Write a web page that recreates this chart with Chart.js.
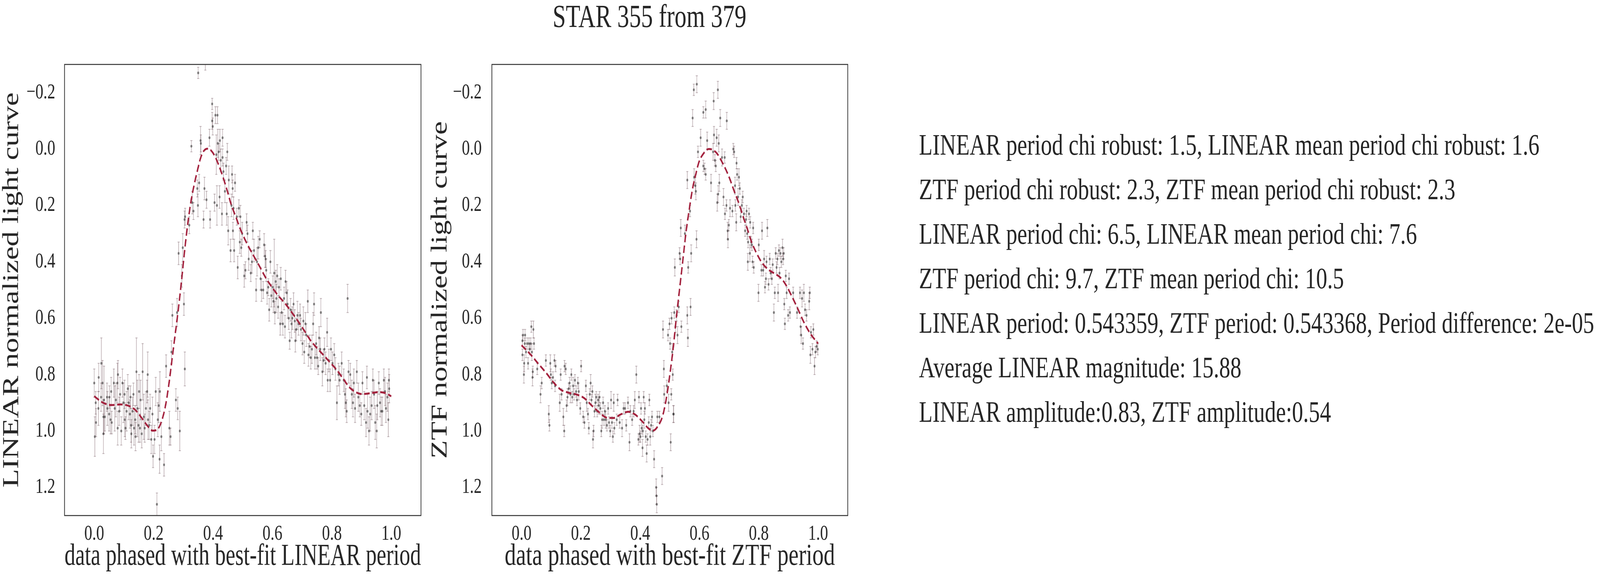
<!DOCTYPE html>
<html>
<head>
<meta charset="utf-8">
<script src="https://cdn.jsdelivr.net/npm/chart.js@4.4.1/dist/chart.umd.min.js"></script>
<style>
  html, body { margin:0; padding:0; background:#ffffff; overflow:hidden; width:100%; height:100%; }
  #frame { position:relative; left:0; top:0; overflow:hidden; background:#ffffff; }
  #root { position:absolute; left:0; top:0; width:5530px; height:1485px; transform-origin:0 0; background:#ffffff;
          font-family:'Liberation Serif','Times New Roman',serif; color:#262626; overflow:hidden; }
  #root canvas { position:absolute; top:0; }
  #title { position:absolute; left:1745px; top:1px; width:1000px; text-align:center; font-size:82px; line-height:82px; white-space:nowrap; }
  #stats { position:absolute; left:3176px; top:313px; font-size:77px; line-height:114px; white-space:nowrap; }
</style>
</head>
<body>
<div id="frame">
<div id="root">
  <div id="title"></div>
  <canvas id="c1" width="1500" height="1485" style="left:0px;width:1500px;height:1485px;"></canvas>
  <canvas id="c2" width="1500" height="1485" style="left:1460px;width:1500px;height:1485px;"></canvas>
  <div id="stats"></div>
</div>
</div>
<script>
// ---------------- DATA ----------------
const figureTitle = 'STAR 355 from 379';
const linearXLabel = 'data phased with best-fit LINEAR period';
const linearYLabel = 'LINEAR normalized light curve';
const ztfXLabel = 'data phased with best-fit ZTF period';
const ztfYLabel = 'ZTF normalized light curve';
const xTickValues = [0.0, 0.2, 0.4, 0.6, 0.8, 1.0];
const yTickValues = [-0.2, 0.0, 0.2, 0.4, 0.6, 0.8, 1.0, 1.2];
const statLines = [
  'LINEAR period chi robust: 1.5, LINEAR mean period chi robust: 1.6',
  'ZTF period chi robust: 2.3, ZTF mean period chi robust: 2.3',
  'LINEAR period chi: 6.5, LINEAR mean period chi: 7.6',
  'ZTF period chi: 9.7, ZTF mean period chi: 10.5',
  'LINEAR period: 0.543359, ZTF period: 0.543368, Period difference: 2e-05',
  'Average LINEAR magnitude: 15.88',
  'LINEAR amplitude:0.83, ZTF amplitude:0.54'
];

// LINEAR phased points: [phase, normalized mag, error]
const linearPoints = [
[0.000,0.83,0.05],[0.002,1.02,0.07],[0.006,0.97,0.05],[0.005,0.90,0.04],[0.015,0.81,0.05],[0.014,0.92,0.06],
[0.024,0.76,0.09],[0.023,0.88,0.05],[0.028,0.83,0.08],[0.031,1.01,0.07],[0.031,0.95,0.06],[0.033,0.89,0.12],
[0.036,0.95,0.05],[0.043,0.88,0.05],[0.044,0.92,0.06],[0.050,0.94,0.06],[0.051,0.88,0.04],[0.055,0.96,0.05],
[0.057,0.86,0.05],[0.059,0.97,0.04],[0.066,0.83,0.05],[0.069,0.92,0.08],[0.073,0.89,0.06],[0.078,0.83,0.07],
[0.079,0.99,0.06],[0.080,0.80,0.05],[0.084,0.93,0.05],[0.087,0.87,0.06],[0.091,1.00,0.05],[0.095,0.83,0.05],
[0.098,0.90,0.07],[0.102,0.87,0.05],[0.103,0.96,0.06],[0.105,0.99,0.04],[0.109,0.93,0.07],[0.113,0.85,0.05],
[0.116,0.90,0.06],[0.120,0.94,0.05],[0.122,0.88,0.04],[0.124,0.98,0.06],[0.125,1.01,0.05],[0.129,0.93,0.05],
[0.132,0.87,0.04],[0.134,0.99,0.06],[0.138,0.96,0.05],[0.139,1.02,0.05],[0.142,0.79,0.12],[0.145,0.92,0.10],
[0.149,0.98,0.06],[0.151,0.86,0.06],[0.154,0.99,0.05],[0.156,0.89,0.07],[0.160,1.01,0.05],[0.163,0.79,0.10],
[0.167,0.95,0.08],[0.170,0.99,0.05],[0.174,0.92,0.06],[0.178,0.86,0.04],[0.180,0.80,0.08],[0.181,0.96,0.07],
[0.185,0.98,0.05],[0.188,0.92,0.05],[0.192,1.03,0.05],[0.196,0.94,0.06],[0.198,1.09,0.04],[0.203,1.03,0.05],
[0.207,0.86,0.05],[0.211,1.26,0.04],[0.214,0.96,0.06],[0.217,0.91,0.06],[0.220,1.10,0.05],[0.221,0.86,0.07],
[0.226,1.02,0.05],[0.235,1.12,0.04],[0.242,0.77,0.04],[0.253,0.99,0.06],[0.257,1.02,0.03],[0.260,0.72,0.04],
[0.263,0.59,0.04],[0.275,0.89,0.04],[0.281,0.92,0.04],[0.279,0.58,0.05],[0.284,0.37,0.04],[0.288,1.00,0.07],
[0.295,0.45,0.04],[0.298,0.35,0.05],[0.302,0.55,0.04],[0.305,0.78,0.06],[0.304,0.25,0.03],[0.306,0.24,0.03],
[0.320,0.27,0.03],[0.327,-0.01,0.02],[0.330,0.19,0.04],[0.334,0.22,0.03],[0.347,0.14,0.03],[0.349,0.20,0.04],
[0.350,-0.27,0.02],[0.353,0.12,0.03],[0.358,-0.03,0.05],[0.359,-0.02,0.03],[0.368,0.25,0.03],[0.371,0.14,0.04],
[0.378,0.18,0.03],[0.374,-0.33,0.05],[0.388,-0.04,0.03],[0.390,0.25,0.03],[0.397,-0.16,0.02],[0.397,-0.10,0.03],
[0.399,-0.08,0.03],[0.405,0.19,0.03],[0.408,-0.12,0.03],[0.411,0.02,0.07],[0.413,0.20,0.07],[0.415,-0.12,0.03],
[0.416,-0.02,0.05],[0.419,0.01,0.03],[0.422,0.17,0.04],[0.423,-0.03,0.04],[0.426,0.04,0.04],[0.430,0.23,0.04],
[0.432,0.03,0.03],[0.432,-0.04,0.03],[0.435,0.08,0.03],[0.440,0.15,0.04],[0.444,0.06,0.03],[0.446,0.23,0.04],
[0.448,0.01,0.03],[0.451,0.29,0.05],[0.453,0.11,0.05],[0.459,0.36,0.04],[0.462,0.20,0.04],[0.464,0.09,0.03],
[0.466,0.14,0.03],[0.467,0.29,0.03],[0.469,0.21,0.04],[0.471,0.36,0.04],[0.474,0.12,0.03],[0.480,0.24,0.03],
[0.483,0.42,0.04],[0.487,0.21,0.03],[0.490,0.33,0.04],[0.492,0.24,0.04],[0.495,0.35,0.03],[0.498,0.30,0.04],
[0.505,0.45,0.04],[0.509,0.43,0.03],[0.513,0.26,0.03],[0.516,0.30,0.03],[0.520,0.39,0.04],[0.527,0.44,0.03],
[0.531,0.40,0.04],[0.534,0.29,0.03],[0.538,0.36,0.04],[0.545,0.50,0.04],[0.548,0.40,0.05],[0.552,0.35,0.04],
[0.557,0.32,0.03],[0.560,0.46,0.04],[0.563,0.50,0.04],[0.569,0.50,0.03],[0.572,0.34,0.04],[0.575,0.38,0.04],
[0.577,0.39,0.03],[0.579,0.43,0.04],[0.582,0.51,0.04],[0.586,0.49,0.03],[0.589,0.57,0.04],[0.593,0.40,0.04],
[0.596,0.52,0.04],[0.601,0.49,0.04],[0.603,0.54,0.04],[0.606,0.44,0.12],[0.608,0.58,0.04],[0.611,0.47,0.04],
[0.613,0.53,0.05],[0.616,0.45,0.04],[0.619,0.56,0.04],[0.622,0.49,0.03],[0.626,0.62,0.04],[0.628,0.46,0.04],
[0.631,0.58,0.04],[0.635,0.62,0.04],[0.639,0.53,0.04],[0.642,0.63,0.04],[0.644,0.47,0.04],[0.648,0.51,0.04],
[0.651,0.55,0.05],[0.655,0.60,0.04],[0.658,0.68,0.03],[0.661,0.57,0.04],[0.664,0.62,0.05],[0.667,0.60,0.04],
[0.671,0.55,0.04],[0.675,0.61,0.04],[0.677,0.68,0.04],[0.680,0.64,0.04],[0.684,0.59,0.05],[0.688,0.62,0.04],
[0.693,0.59,0.04],[0.696,0.64,0.04],[0.701,0.69,0.04],[0.704,0.61,0.05],[0.707,0.72,0.04],[0.711,0.62,0.04],
[0.714,0.66,0.04],[0.719,0.54,0.04],[0.721,0.73,0.04],[0.725,0.70,0.04],[0.729,0.74,0.04],[0.733,0.71,0.05],
[0.737,0.62,0.04],[0.740,0.55,0.04],[0.743,0.74,0.04],[0.747,0.69,0.04],[0.750,0.74,0.04],[0.754,0.77,0.03],
[0.757,0.67,0.04],[0.761,0.71,0.04],[0.763,0.58,0.05],[0.768,0.79,0.05],[0.772,0.75,0.04],[0.775,0.71,0.04],
[0.779,0.76,0.04],[0.784,0.65,0.05],[0.786,0.82,0.04],[0.790,0.75,0.04],[0.794,0.82,0.04],[0.797,0.71,0.04],
[0.802,0.76,0.04],[0.808,0.73,0.04],[0.812,0.78,0.04],[0.817,0.90,0.06],[0.822,0.80,0.04],[0.826,0.82,0.05],
[0.833,0.76,0.04],[0.840,0.82,0.04],[0.844,0.87,0.05],[0.847,0.90,0.05],[0.850,0.93,0.04],[0.853,0.53,0.05],
[0.856,0.79,0.04],[0.862,0.80,0.04],[0.867,0.87,0.05],[0.871,0.90,0.05],[0.874,0.83,0.05],[0.878,0.92,0.05],
[0.884,0.79,0.04],[0.889,0.88,0.05],[0.894,0.91,0.04],[0.899,0.94,0.04],[0.903,0.83,0.04],[0.909,0.91,0.05],
[0.915,0.97,0.05],[0.918,0.81,0.04],[0.920,0.93,0.06],[0.925,1.00,0.05],[0.929,0.94,0.06],[0.934,0.91,0.05],
[0.938,0.82,0.04],[0.942,0.87,0.05],[0.946,0.97,0.06],[0.951,1.00,0.06],[0.953,0.91,0.05],[0.958,0.83,0.04],
[0.962,0.90,0.05],[0.966,0.93,0.05],[0.970,0.93,0.05],[0.975,0.82,0.04],[0.979,0.86,0.05],[0.982,0.92,0.05],
[0.987,0.88,0.05],[0.990,0.96,0.06],[0.992,0.82,0.04],[0.993,0.85,0.05]
];

// ZTF phased points: [phase, normalized mag, error]
const ztfPoints = [
[0.003,0.68,0.02],[0.003,0.73,0.02],[0.005,0.66,0.02],[0.008,0.80,0.03],[0.009,0.76,0.03],[0.011,0.69,0.02],
[0.012,0.66,0.02],[0.015,0.72,0.02],[0.019,0.69,0.02],[0.022,0.76,0.02],[0.025,0.69,0.02],[0.028,0.71,0.02],
[0.031,0.69,0.02],[0.033,0.63,0.02],[0.035,0.72,0.03],[0.037,0.81,0.03],[0.038,0.79,0.02],[0.040,0.64,0.03],
[0.042,0.69,0.02],[0.053,0.78,0.02],[0.064,0.87,0.03],[0.068,0.83,0.02],[0.082,0.75,0.02],[0.092,0.94,0.03],
[0.094,0.98,0.02],[0.097,0.76,0.03],[0.099,0.80,0.02],[0.102,0.83,0.02],[0.106,0.81,0.02],[0.111,0.75,0.02],
[0.113,0.84,0.02],[0.115,0.77,0.02],[0.129,0.90,0.03],[0.132,0.80,0.02],[0.135,0.87,0.02],[0.141,0.95,0.03],
[0.144,1.00,0.02],[0.145,0.77,0.02],[0.149,0.78,0.02],[0.152,0.91,0.02],[0.155,0.88,0.03],[0.159,0.85,0.02],
[0.162,0.83,0.02],[0.165,0.87,0.03],[0.168,0.80,0.02],[0.171,0.88,0.02],[0.174,0.84,0.03],[0.177,0.87,0.02],
[0.180,0.82,0.02],[0.184,0.86,0.02],[0.187,0.89,0.02],[0.190,0.83,0.02],[0.193,0.86,0.03],[0.198,0.92,0.02],
[0.201,0.77,0.02],[0.208,0.95,0.02],[0.212,0.97,0.02],[0.217,0.84,0.02],[0.220,0.90,0.03],[0.224,0.94,0.02],
[0.227,0.99,0.02],[0.230,0.87,0.02],[0.233,0.83,0.03],[0.236,0.89,0.02],[0.239,0.86,0.02],[0.241,1.03,0.03],
[0.243,1.00,0.02],[0.246,0.93,0.02],[0.249,0.90,0.03],[0.252,0.88,0.02],[0.255,0.93,0.02],[0.258,0.89,0.02],
[0.261,0.91,0.03],[0.263,0.88,0.02],[0.266,0.92,0.02],[0.269,1.00,0.02],[0.272,0.96,0.03],[0.275,0.90,0.02],
[0.278,0.96,0.02],[0.281,0.93,0.02],[0.284,0.96,0.03],[0.288,0.98,0.02],[0.292,0.92,0.02],[0.295,0.97,0.02],
[0.299,1.00,0.02],[0.302,0.89,0.03],[0.305,0.97,0.02],[0.308,1.02,0.02],[0.311,0.90,0.03],[0.313,0.99,0.02],
[0.321,0.96,0.02],[0.324,0.89,0.02],[0.331,0.97,0.02],[0.339,0.99,0.03],[0.344,0.92,0.02],[0.349,0.92,0.02],
[0.353,0.98,0.02],[0.359,0.90,0.02],[0.364,1.04,0.03],[0.367,0.93,0.02],[0.373,0.96,0.02],[0.378,0.93,0.02],
[0.382,0.89,0.03],[0.387,0.80,0.03],[0.394,1.03,0.02],[0.396,0.88,0.02],[0.398,1.01,0.03],[0.401,1.02,0.02],
[0.403,0.92,0.02],[0.405,0.99,0.02],[0.408,1.06,0.03],[0.409,1.00,0.02],[0.412,0.88,0.02],[0.414,0.96,0.03],
[0.416,0.92,0.02],[0.419,1.02,0.02],[0.422,1.08,0.03],[0.425,1.03,0.02],[0.429,0.97,0.02],[0.431,0.89,0.02],
[0.434,1.02,0.03],[0.437,0.98,0.02],[0.440,0.95,0.02],[0.443,1.00,0.02],[0.447,1.10,0.03],[0.454,1.20,0.03],
[0.455,1.23,0.03],[0.456,1.26,0.03],[0.458,0.95,0.02],[0.465,0.95,0.02],[0.474,1.16,0.03],[0.477,0.64,0.03],
[0.480,0.78,0.03],[0.481,0.87,0.03],[0.490,0.84,0.02],[0.494,0.66,0.02],[0.496,0.90,0.03],[0.499,0.62,0.02],
[0.501,0.69,0.02],[0.503,1.04,0.03],[0.505,0.87,0.02],[0.506,0.60,0.02],[0.508,0.72,0.03],[0.510,0.80,0.02],
[0.512,0.94,0.03],[0.513,0.94,0.03],[0.515,0.58,0.02],[0.517,0.42,0.03],[0.519,0.63,0.02],[0.523,0.59,0.02],
[0.526,0.66,0.03],[0.530,0.56,0.02],[0.533,0.37,0.02],[0.535,0.39,0.02],[0.537,0.28,0.03],[0.539,0.63,0.02],
[0.551,0.30,0.03],[0.559,0.59,0.03],[0.559,0.11,0.03],[0.561,0.67,0.03],[0.562,0.42,0.02],[0.568,0.22,0.02],
[0.570,0.56,0.03],[0.572,0.37,0.03],[0.577,-0.11,0.03],[0.581,-0.21,0.02],[0.582,0.10,0.03],[0.586,0.13,0.03],
[0.588,0.15,0.03],[0.590,0.32,0.03],[0.591,-0.23,0.03],[0.595,0.01,0.02],[0.604,-0.04,0.03],[0.613,-0.13,0.02],
[0.613,0.06,0.02],[0.617,0.07,0.02],[0.621,-0.14,0.03],[0.621,0.09,0.02],[0.626,-0.03,0.03],[0.639,0.12,0.03],
[0.646,0.01,0.03],[0.648,-0.17,0.03],[0.649,-0.05,0.03],[0.652,0.04,0.02],[0.655,0.06,0.02],[0.658,-0.04,0.03],
[0.660,0.19,0.03],[0.662,-0.21,0.03],[0.663,0.16,0.03],[0.665,-0.02,0.03],[0.667,0.12,0.03],[0.670,-0.11,0.03],
[0.676,0.03,0.03],[0.681,0.17,0.03],[0.685,0.03,0.02],[0.686,0.23,0.02],[0.691,0.20,0.02],[0.692,-0.10,0.03],
[0.695,0.29,0.03],[0.696,0.32,0.03],[0.699,0.27,0.02],[0.703,0.21,0.03],[0.711,0.22,0.02],[0.714,0.00,0.02],
[0.717,0.01,0.02],[0.720,0.13,0.03],[0.721,0.20,0.02],[0.724,0.26,0.03],[0.725,0.05,0.02],[0.727,0.09,0.02],
[0.730,0.17,0.03],[0.733,0.10,0.03],[0.736,0.14,0.02],[0.739,0.24,0.02],[0.743,0.20,0.02],[0.746,0.17,0.02],
[0.750,0.23,0.02],[0.754,0.29,0.02],[0.757,0.25,0.02],[0.759,0.22,0.02],[0.761,0.30,0.02],[0.763,0.40,0.03],
[0.764,0.33,0.02],[0.767,0.23,0.02],[0.770,0.37,0.03],[0.771,0.26,0.02],[0.774,0.33,0.02],[0.777,0.34,0.02],
[0.779,0.40,0.02],[0.781,0.28,0.02],[0.783,0.42,0.02],[0.799,0.51,0.03],[0.800,0.34,0.02],[0.809,0.43,0.02],
[0.811,0.29,0.03],[0.815,0.43,0.02],[0.818,0.39,0.03],[0.821,0.49,0.02],[0.824,0.46,0.02],[0.826,0.40,0.02],
[0.829,0.28,0.03],[0.833,0.48,0.02],[0.837,0.39,0.02],[0.840,0.44,0.02],[0.844,0.46,0.02],[0.847,0.41,0.02],
[0.851,0.58,0.03],[0.854,0.51,0.02],[0.857,0.37,0.02],[0.860,0.42,0.02],[0.863,0.39,0.02],[0.865,0.51,0.03],
[0.868,0.36,0.02],[0.870,0.44,0.02],[0.873,0.37,0.02],[0.876,0.40,0.02],[0.880,0.35,0.03],[0.882,0.39,0.02],
[0.884,0.37,0.02],[0.886,0.55,0.02],[0.888,0.62,0.02],[0.891,0.45,0.02],[0.894,0.51,0.02],[0.899,0.59,0.02],
[0.902,0.46,0.02],[0.905,0.58,0.02],[0.916,0.51,0.02],[0.929,0.58,0.02],[0.939,0.51,0.02],[0.941,0.63,0.03],
[0.943,0.66,0.03],[0.946,0.53,0.03],[0.949,0.69,0.02],[0.952,0.51,0.03],[0.956,0.57,0.02],[0.961,0.59,0.02],
[0.970,0.54,0.03],[0.972,0.51,0.02],[0.974,0.73,0.03],[0.976,0.65,0.02],[0.981,0.71,0.02],[0.984,0.64,0.02],
[0.988,0.77,0.03],[0.991,0.72,0.02],[0.995,0.70,0.02],[0.999,0.71,0.02]
];

// Best-fit model curves (phase, normalized mag)
const linearFitPhase = [0.000,0.030,0.059,0.088,0.116,0.138,0.160,0.181,0.197,0.214,0.228,0.239,0.250,0.260,0.271,0.282,0.293,0.304,0.314,0.325,0.336,0.347,0.358,0.368,0.381,0.394,0.406,0.419,0.433,0.448,0.462,0.477,0.491,0.513,0.534,0.556,0.577,0.599,0.621,0.642,0.664,0.685,0.707,0.729,0.750,0.772,0.794,0.815,0.837,0.858,0.880,0.902,0.930,0.959,0.981,1.000];
const linearFitMag   = [0.877,0.900,0.908,0.906,0.911,0.925,0.954,0.984,0.999,0.993,0.961,0.915,0.844,0.762,0.670,0.578,0.476,0.364,0.272,0.190,0.129,0.078,0.032,0.008,-0.001,0.006,0.025,0.057,0.098,0.149,0.200,0.241,0.282,0.333,0.374,0.415,0.456,0.491,0.522,0.547,0.578,0.609,0.644,0.680,0.706,0.731,0.757,0.782,0.813,0.844,0.862,0.869,0.866,0.862,0.866,0.877];
const ztfFitPhase = [0.000,0.028,0.057,0.086,0.108,0.133,0.158,0.187,0.212,0.237,0.263,0.288,0.310,0.335,0.360,0.382,0.407,0.429,0.443,0.461,0.476,0.490,0.501,0.512,0.522,0.533,0.544,0.555,0.566,0.577,0.588,0.598,0.613,0.631,0.645,0.660,0.674,0.689,0.703,0.717,0.732,0.746,0.761,0.775,0.790,0.808,0.829,0.851,0.873,0.891,0.909,0.930,0.952,0.974,1.000];
const ztfFitMag   = [0.696,0.726,0.762,0.798,0.828,0.854,0.864,0.871,0.884,0.910,0.935,0.953,0.954,0.941,0.932,0.941,0.966,0.992,0.999,0.981,0.946,0.874,0.793,0.701,0.598,0.496,0.394,0.292,0.211,0.139,0.088,0.047,0.017,0.000,0.003,0.017,0.042,0.073,0.108,0.149,0.190,0.236,0.282,0.328,0.364,0.399,0.425,0.440,0.456,0.481,0.517,0.563,0.614,0.655,0.690];

// ---------------- LAYOUT (map the 5530x1485 design onto the whole window) ----------------
const DESIGN_W = 5530, DESIGN_H = 1485;
const viewW = window.innerWidth || DESIGN_W;
const viewH = window.innerHeight || DESIGN_H;
const scaleX = viewW / DESIGN_W;
const scaleY = viewH / DESIGN_H;
const frameEl = document.getElementById('frame');
frameEl.style.width = viewW + 'px';
frameEl.style.height = viewH + 'px';
document.getElementById('root').style.transform = 'scale(' + scaleX + ',' + scaleY + ')';
const canvasRatio = Math.max(1, Math.max(scaleX, scaleY) * (window.devicePixelRatio || 1));

// ---------------- RENDERING ----------------
const FONT = "'Liberation Serif','Times New Roman',serif";
const TEXT = '#262626';

document.getElementById('title').textContent = figureTitle;
const statsEl = document.getElementById('stats');
statLines.forEach(s => { const d = document.createElement('div'); d.textContent = s; statsEl.appendChild(d); });

const errorBarPlugin = {
  id: 'errbars',
  beforeDatasetsDraw(chart) {
    const {ctx, chartArea: a, scales: {x, y}} = chart;
    const ds = chart.data.datasets[0];
    ctx.save();
    ctx.beginPath(); ctx.rect(a.left, a.top, a.right - a.left, a.bottom - a.top); ctx.clip();
    ctx.strokeStyle = 'rgba(115,85,95,0.48)';
    ctx.lineWidth = 2;
    ds.data.forEach(p => {
      const px = x.getPixelForValue(p.x);
      const y1 = y.getPixelForValue(p.y - p.err);
      const y2 = y.getPixelForValue(p.y + p.err);
      ctx.beginPath();
      ctx.moveTo(px, y1); ctx.lineTo(px, y2);
      ctx.moveTo(px - 3.5, y1); ctx.lineTo(px + 3.5, y1);
      ctx.moveTo(px - 3.5, y2); ctx.lineTo(px + 3.5, y2);
      ctx.stroke();
    });
    ctx.restore();
  }
};
const framePlugin = {
  id: 'frame',
  afterDraw(chart) {
    const {ctx, chartArea: a} = chart;
    ctx.save();
    ctx.strokeStyle = '#333333';
    ctx.lineWidth = 2.5;
    ctx.strokeRect(a.left, a.top, a.right - a.left, a.bottom - a.top);
    ctx.restore();
  }
};

const fmt = v => (v < 0 ? '\u2212' : '') + Math.abs(v).toFixed(1);

function makeChart(canvasId, points, fitX, fitY, xLabel, yLabel, geom) {
  const ctx = document.getElementById(canvasId).getContext('2d');
  return new Chart(ctx, {
    type: 'scatter',
    data: {
      datasets: [
        {
          type: 'scatter',
          data: points.map(p => ({x: p[0], y: p[1], err: p[2]})),
          pointRadius: 3.4,
          pointBackgroundColor: 'rgba(40,40,40,0.55)',
          pointBorderWidth: 0,
          pointHoverRadius: 3.4,
          order: 2
        },
        {
          type: 'line',
          data: fitX.map((v, i) => ({x: v, y: fitY[i]})),
          borderColor: '#a3213d',
          borderWidth: 5,
          borderDash: [19, 9],
          pointRadius: 0,
          fill: false,
          cubicInterpolationMode: 'monotone',
          order: 1
        }
      ]
    },
    options: {
      responsive: false,
      animation: false,
      devicePixelRatio: canvasRatio,
      events: [],
      layout: { padding: { top: 165, right: geom.padRight, bottom: 0, left: 0 } },
      plugins: { legend: { display: false }, tooltip: { enabled: false } },
      scales: {
        x: {
          type: 'linear', min: -0.1, max: 1.1,
          afterFit(s) { s.height = 165; },
          afterBuildTicks(s) { s.ticks = xTickValues.map(v => ({value: v})); },
          grid: { display: false }, border: { display: false },
          ticks: { padding: 12, color: TEXT, font: { family: FONT, size: 55, lineHeight: 1 }, maxRotation: 0, autoSkip: false, callback: v => fmt(v) },
          title: { display: true, text: xLabel, color: TEXT, font: { family: FONT, size: 78, lineHeight: 1 }, padding: { top: 0, bottom: 20 } }
        },
        y: {
          type: 'linear', min: -0.3, max: 1.3, reverse: true,
          afterFit(s) { s.width = geom.yWidth; },
          afterBuildTicks(s) { s.ticks = yTickValues.map(v => ({value: v})); },
          grid: { display: false }, border: { display: false },
          ticks: { padding: geom.yTickPad, color: TEXT, font: { family: FONT, size: 55, lineHeight: 1 }, autoSkip: false, callback: v => fmt(v) },
          title: { display: true, text: yLabel, color: TEXT, font: { family: FONT, size: 78, lineHeight: 1 }, padding: { top: geom.yTitlePad, bottom: 0 } }
        }
      }
    },
    plugins: [errorBarPlugin, framePlugin]
  });
}

makeChart('c1', linearPoints, linearFitPhase, linearFitMag, linearXLabel, linearYLabel,
  { padRight: 45, yWidth: 223, yTickPad: 24, yTitlePad: 3 });
makeChart('c2', ztfPoints, ztfFitPhase, ztfFitMag, ztfXLabel, ztfYLabel,
  { padRight: 30, yWidth: 240, yTickPad: 27, yTitlePad: 24 });
</script>
</body>
</html>
